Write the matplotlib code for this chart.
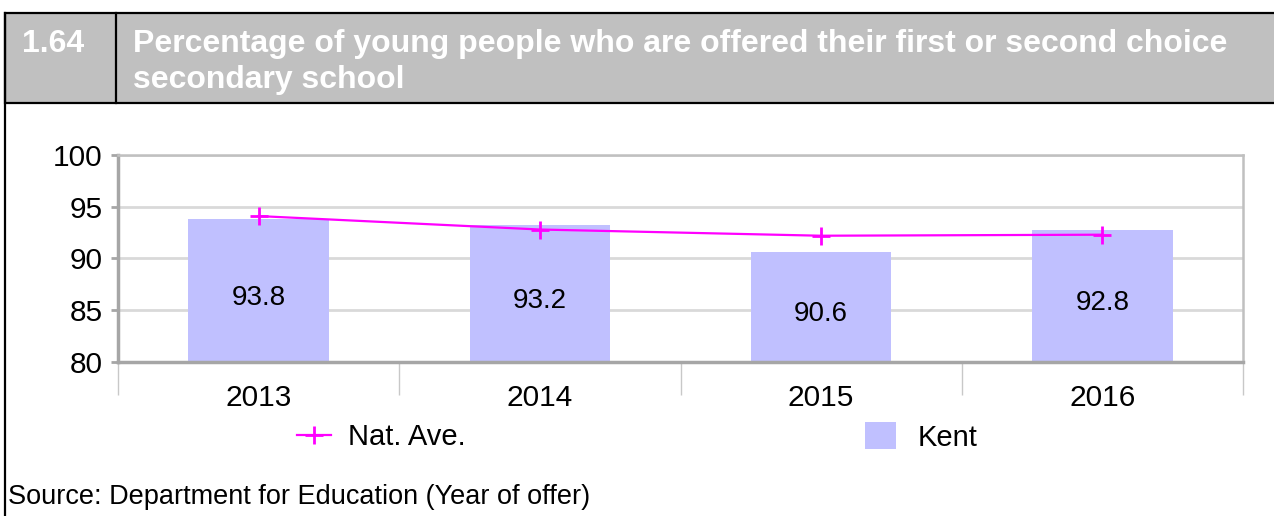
import matplotlib.pyplot as plt
import matplotlib.patches as patches
import matplotlib.lines as mlines
import numpy as np

plt.rcParams['font.family'] = ['Liberation Sans', 'DejaVu Sans']

# data
years = ['2013', '2014', '2015', '2016']
kent = [93.8, 93.2, 90.6, 92.8]
nat_ave = [94.1, 92.8, 92.2, 92.3]
y_ticks = [80, 85, 90, 95, 100]

chart_no = '1.64'
title_lines = ['Percentage of young people who are offered their first or second choice',
               'secondary school']
source = 'Source: Department for Education (Year of offer)'

W, H = 1274, 516
fig = plt.figure(figsize=(W / 100, H / 100), dpi=100)


def fx(px):
    return px / W


def fy(py):
    return 1 - py / H


# header box
fig.patches.append(patches.Rectangle((fx(5), fy(103)), fx(1300) - fx(5), fy(13) - fy(103),
                                     transform=fig.transFigure, facecolor='#c0c0c0',
                                     edgecolor='black', linewidth=1.6, zorder=0))
fig.lines.append(mlines.Line2D([fx(116), fx(116)], [fy(13), fy(103)], transform=fig.transFigure,
                               color='black', linewidth=1.6))
fig.lines.append(mlines.Line2D([fx(5), fx(5)], [fy(13), fy(530)], transform=fig.transFigure,
                               color='black', linewidth=1.6))
fig.text(fx(22), fy(52), chart_no, color='white', fontsize=23, fontweight='bold', va='baseline')
fig.text(fx(133), fy(52), title_lines[0], color='white', fontsize=23, fontweight='bold',
         va='baseline')
fig.text(fx(133), fy(88), title_lines[1], color='white', fontsize=23, fontweight='bold',
         va='baseline')

# plot
ax = fig.add_axes([fx(118), fy(362), fx(1243) - fx(118), fy(155) - fy(362)])
x = np.arange(len(years))
bars = ax.bar(x, [v - 80 for v in kent], bottom=80, width=0.5, color='#c0c0ff', zorder=2,
              label='Kent')
for xi, v in zip(x, kent):
    ax.text(xi, (80 + v) / 2 - 0.7, f'{v:.1f}', ha='center', va='center', fontsize=20, zorder=4)
line, = ax.plot(x, nat_ave, color='#ff00ff', linewidth=1.6, marker='+', markersize=13,
                markeredgewidth=2, zorder=3, label='Nat. Ave.')

ax.set_xlim(-0.5, len(years) - 0.5)
ax.set_ylim(80, 100)
ax.set_yticks(y_ticks)
ax.set_yticklabels([str(t) for t in y_ticks], fontsize=21.5)
ax.yaxis.grid(True, color='#d9d9d9', linewidth=2, zorder=0)
ax.set_axisbelow(True)
ax.tick_params(axis='y', length=5, width=2, color='#a6a6a6', pad=6)

ax.set_xticks(x)
ax.set_xticklabels(years, fontsize=21.5)
ax.set_xticks(np.arange(-0.5, len(years), 1.0), minor=True)
ax.tick_params(axis='x', which='major', length=0, pad=16)
ax.tick_params(axis='x', which='minor', length=24, width=1, color='#c8c8c8')

for side in ['left', 'bottom']:
    ax.spines[side].set_color('#a6a6a6')
    ax.spines[side].set_linewidth(2.5)
for side in ['top', 'right']:
    ax.spines[side].set_color('#c0c0c0')
    ax.spines[side].set_linewidth(1.8)

# legends
fig.legend(handles=[line], loc='center left', bbox_to_anchor=(fx(271), fy(437)), frameon=False,
           fontsize=21, handlelength=1.15, handletextpad=0.6)
fig.legend(handles=[bars], loc='center left', bbox_to_anchor=(fx(839), fy(437)), frameon=False,
           fontsize=21, handlelength=1.05, handleheight=1.05, handletextpad=0.75)

fig.text(fx(8), fy(497), source, fontsize=19.5, va='center')

fig.savefig('out.png', dpi=100)
